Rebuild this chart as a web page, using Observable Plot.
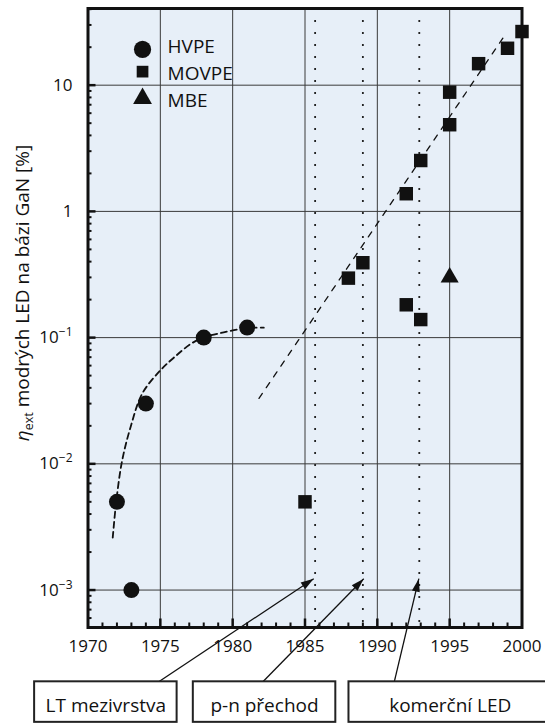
<!DOCTYPE html>
<html><head><meta charset="utf-8">
<script src="https://cdn.jsdelivr.net/npm/d3@7"></script>
<script src="https://cdn.jsdelivr.net/npm/@observablehq/plot@0.6"></script>
<style>
html,body{margin:0;padding:0;background:#fff;overflow:hidden;}
#chart{width:545px;height:724px;}
</style></head><body><div id="chart"></div>
<script>
// ---- data ----
const hvpeYear = [1972, 1973, 1974, 1978, 1981];
const hvpeEff  = [0.005, 0.001, 0.03, 0.1, 0.12];
const movpeYear = [1985, 1988, 1989, 1992, 1993, 1992, 1993, 1995, 1995, 1997, 1999, 2000];
const movpeEff  = [0.005, 0.296, 0.392, 0.182, 0.139, 1.38, 2.53, 4.86, 8.8, 14.8, 19.6, 26.6];
const mbeYear = [1995];
const mbeEff  = [0.3];
// dashed guide curves
const hvpeTrendYear = [1971.71, 1971.95, 1972.36, 1972.94, 1973.75, 1975.0, 1975.93, 1977.08, 1977.96, 1979.38, 1981.0, 1982.15];
const hvpeTrendEff  = [0.0026, 0.005, 0.0106, 0.0195, 0.036, 0.055, 0.0693, 0.0887, 0.1, 0.11, 0.119, 0.12];
const movpeTrendYear = [1981.82, 1998.9];
const movpeTrendEff  = [0.033, 25.7];
// legend
const legendLabels = ["HVPE", "MOVPE", "MBE"];
const legendSymbolEff = [19.2, 12.8, 7.85];
const legendTextEff = [20.0, 12.3, 7.57];
const legendSymbolYear = 1973.77;
const legendTextYear = 1975.5;
// milestones
const eventYears  = [1985.7, 1989.0, 1992.9];
const eventLabels = ["LT mezivrstva", "p-n přechod", "komerční LED"];
const arrowTipYear = [1985.6, 1989.06, 1992.87];
const arrowTipEff  = [0.00123, 0.00123, 0.00123];
const arrowTailYear = [1974.89, 1982.09, 1991.17];
const boxLeftYear  = [1966.31, 1977.28, 1988.04];
const boxRightYear = [1976.16, 1987.13, 2003.5];
const labelYear    = [1971.23, 1982.2, 1995.04];
const boxTopEff = 1.875e-4, boxBottomEff = 8.95e-5, labelEff = 1.216e-4;
// axes
const xTicks = [1970, 1975, 1980, 1985, 1990, 1995, 2000];
const xGrid = [1975, 1980, 1985, 1990, 1995];
const xMinor = d3.range(1971, 2000).filter(y => y % 5 !== 0);
const yTicks = [0.001, 0.01, 0.1, 1, 10];
const yMinor = [-4, -3, -2, -1, 0, 1].flatMap(e => d3.range(2, 10).map(m => m * Math.pow(10, e))).filter(v => v > 5.05e-4 && v < 40.5);
const yLabelMain = "η", yLabelSub = "ext", yLabelRest = " modrých LED na bázi GaN [%]";

// ---- tables ----
const hvpe = hvpeYear.map((year, i) => ({year, eff: hvpeEff[i]}));
const movpe = movpeYear.map((year, i) => ({year, eff: movpeEff[i]}));
const mbe = mbeYear.map((year, i) => ({year, eff: mbeEff[i]}));
const hvpeTrend = hvpeTrendYear.map((year, i) => ({year, eff: hvpeTrendEff[i]}));
const movpeTrend = movpeTrendYear.map((year, i) => ({year, eff: movpeTrendEff[i]}));
const legend = legendLabels.map((label, i) => ({label, sEff: legendSymbolEff[i], tEff: legendTextEff[i]}));
const ann = eventLabels.map((label, i) => ({
  label, tipX: arrowTipYear[i], tipY: arrowTipEff[i], tailX: arrowTailYear[i],
  bx1: boxLeftYear[i], bx2: boxRightYear[i], lx: labelYear[i]
}));

const ink = "#111";
const fmt = d => { const e = Math.round(Math.log10(d)); return e >= 0 ? String(d) : "10|\u2212" + (-e); };

const plot = Plot.plot({
  width: 545, height: 724,
  marginLeft: 87.5, marginRight: 23.5, marginTop: 8, marginBottom: 97,
  x: {domain: [1970, 2000], axis: null},
  y: {type: "log", domain: [5.05e-4, 40.5], axis: null},
  style: {fontFamily: "'Open Sans', sans-serif", fontSize: "17px", color: ink, background: "white"},
  marks: [
    Plot.frame({fill: "#e7eff8", stroke: "none"}),
    Plot.gridX(xGrid, {stroke: "#3a3a3a", strokeOpacity: 1, strokeWidth: 1}),
    Plot.gridY(yTicks, {stroke: "#3a3a3a", strokeOpacity: 1, strokeWidth: 1}),
    Plot.ruleX(eventYears, {stroke: "#222", strokeWidth: 1.8, strokeDasharray: "2,10"}),
    Plot.line(hvpeTrend, {x: "year", y: "eff", curve: "catmull-rom", stroke: ink, strokeWidth: 1.8, strokeDasharray: "6,4"}),
    Plot.line(movpeTrend, {x: "year", y: "eff", stroke: ink, strokeWidth: 1.3, strokeDasharray: "6,7"}),
    // frame and inward ticks
    Plot.frame({stroke: ink, strokeWidth: 3}),
    Plot.axisX({ticks: xGrid, tickSize: -8.5, strokeWidth: 2.5, tickFormat: () => "", label: null}),
    Plot.axisX({ticks: xMinor, tickSize: -4.5, strokeWidth: 2, tickFormat: () => "", label: null}),
    Plot.axisY({ticks: yTicks, tickSize: -8, strokeWidth: 2.5, tickFormat: () => "", label: null}),
    Plot.axisY({ticks: yMinor, tickSize: -4, strokeWidth: 2, tickFormat: () => "", label: null}),
    Plot.axisX({ticks: xTicks, tickSize: 0, tickPadding: 12, tickFormat: d => String(d), label: null}),
    Plot.axisY({ticks: yTicks, tickSize: 0, tickPadding: 15.5, tickFormat: fmt, label: null}),
    // data
    Plot.dot(hvpe, {x: "year", y: "eff", symbol: "circle", r: 8, fill: ink}),
    Plot.dot(movpe, {x: "year", y: "eff", symbol: "square", r: 7.6, fill: ink}),
    Plot.dot(mbe, {x: "year", y: "eff", symbol: "triangle", r: 6.7, fill: ink}),
    // legend
    Plot.dot(legend.slice(0, 1), {x: () => legendSymbolYear, y: "sEff", symbol: "circle", r: 8.6, fill: ink}),
    Plot.dot(legend.slice(1, 2), {x: () => legendSymbolYear, y: "sEff", symbol: "square", r: 6.6, fill: ink}),
    Plot.dot(legend.slice(2, 3), {x: () => legendSymbolYear, y: "sEff", symbol: "triangle", r: 7, fill: ink}),
    Plot.text(legend, {x: () => legendTextYear, y: "tEff", text: "label", textAnchor: "start", fontSize: 19, fill: ink}),
    // milestone annotations
    Plot.link(ann, {x1: "tailX", y1: () => boxTopEff, x2: "tipX", y2: "tipY", stroke: ink, strokeWidth: 1.3}),
    Plot.rect(ann, {x1: "bx1", x2: "bx2", y1: () => boxBottomEff, y2: () => boxTopEff, fill: "white", stroke: "#222", strokeWidth: 2}),
    Plot.text(ann, {x: "lx", y: () => labelEff, text: "label", fontSize: 19, fill: ink})
  ]
});

const svg = d3.select(plot);
// superscript exponents on the y tick labels
svg.selectAll("text").each(function () {
  const t = d3.select(this);
  const s = t.text();
  if (s.includes("|")) {
    const [base, sup] = s.split("|");
    t.text(null);
    t.append("tspan").text(base);
    t.append("tspan").attr("dy", "-7").style("font-size", "12px").text(sup);
  }
});
// filled arrowheads
const defs = svg.insert("defs", ":first-child");
defs.append("marker").attr("id", "ah").attr("viewBox", "-14 -5 15 10")
  .attr("markerWidth", 15).attr("markerHeight", 10).attr("markerUnits", "userSpaceOnUse")
  .attr("orient", "auto").attr("refX", 0).attr("refY", 0)
  .append("path").attr("d", "M0,0L-13,-4L-13,4Z").attr("fill", ink);
svg.selectAll('g[aria-label="link"] path').attr("marker-end", "url(#ah)");
// y-axis title with subscript
const lab = svg.append("text").attr("transform", "translate(29,293) rotate(-90)")
  .attr("text-anchor", "middle").style("font-size", "19px").attr("fill", ink);
lab.append("tspan").attr("font-style", "italic").text(yLabelMain);
lab.append("tspan").style("font-size", "12.5px").attr("dy", 4).text(yLabelSub);
lab.append("tspan").attr("dy", -4).text(yLabelRest);

document.getElementById("chart").appendChild(plot);
</script></body></html>
